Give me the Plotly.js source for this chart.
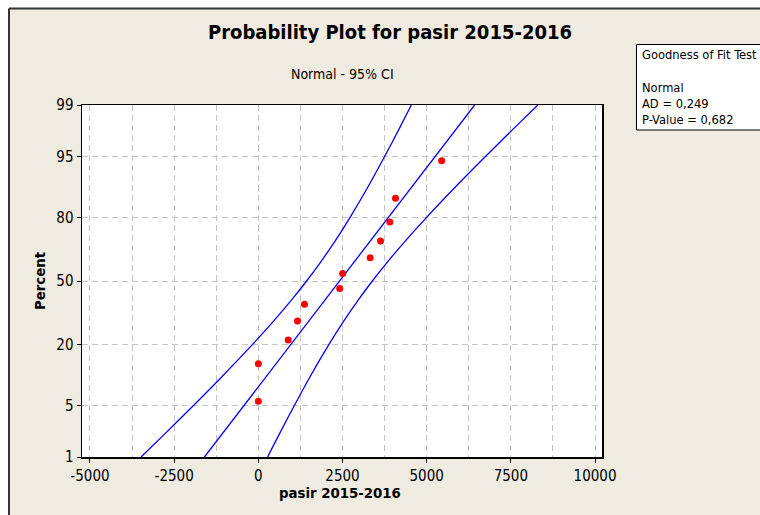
<!DOCTYPE html>
<html>
<head>
<meta charset="utf-8">
<script src="https://cdn.plot.ly/plotly-3.0.1.min.js"></script>
<style>html,body{margin:0;padding:0;background:#fff;}#chart{width:760px;height:515px;}</style>
</head>
<body>
<div id="chart"></div>
<script>
// ---- data ----
const pointX   = [0, 0, 888, 1163, 1370, 2417, 2506, 3322, 3630, 3905, 4074, 5444];
const pointPct = [5.6, 13.7, 21.8, 29.8, 37.9, 46.0, 54.0, 62.1, 70.2, 78.2, 86.3, 94.4];
const fitPct   = [1, 99];
const fitX     = [-1600, 6425];
const ciPct    = [1, 2, 5, 10, 20, 30, 40, 50, 60, 70, 80, 90, 95, 98, 99];
const ciLower  = [-3482, -2854, -1925, -1118, -178, 465, 982, 1434, 1855, 2274, 2726, 3304, 3750, 4232, 4544];
const ciUpper  = [276, 588, 1070, 1516, 2094, 2546, 2965, 3386, 3838, 4356, 4998, 5938, 6745, 7674, 8302];
const yTickPct = [1, 5, 20, 50, 80, 95, 99];
const xTickVals = [-5000, -2500, 0, 2500, 5000, 7500, 10000];
const xTickText = ['-5000', '-2500', '0', '2500', '5000', '7500', '10000'];
const gofLines = ['Goodness of Fit Test', '', 'Normal', 'AD = 0,249', 'P-Value = 0,682'];

// normal probability scale (inverse normal CDF, Acklam)
function normInv(p) {
  const a=[-3.969683028665376e+01,2.209460984245205e+02,-2.759285104469687e+02,1.383577518672690e+02,-3.066479806614716e+01,2.506628277459239e+00];
  const b=[-5.447609879822406e+01,1.615858368580409e+02,-1.556989798598866e+02,6.680131188771972e+01,-1.328068155288572e+01];
  const c=[-7.784894002430293e-03,-3.223964580411365e-01,-2.400758277161838e+00,-2.549732539343734e+00,4.374664141464968e+00,2.938163982698783e+00];
  const d=[7.784695709041462e-03,3.224671290700398e-01,2.445134137142996e+00,3.754408661907416e+00];
  const plow=0.02425, phigh=1-plow;
  let q, r;
  if (p < plow) { q=Math.sqrt(-2*Math.log(p)); return (((((c[0]*q+c[1])*q+c[2])*q+c[3])*q+c[4])*q+c[5])/((((d[0]*q+d[1])*q+d[2])*q+d[3])*q+1); }
  if (p <= phigh) { q=p-0.5; r=q*q; return (((((a[0]*r+a[1])*r+a[2])*r+a[3])*r+a[4])*r+a[5])*q/(((((b[0]*r+b[1])*r+b[2])*r+b[3])*r+b[4])*r+1); }
  q=Math.sqrt(-2*Math.log(1-p)); return -(((((c[0]*q+c[1])*q+c[2])*q+c[3])*q+c[4])*q+c[5])/((((d[0]*q+d[1])*q+d[2])*q+d[3])*q+1);
}
const toZ = arr => arr.map(v => normInv(v/100));

// layout geometry
const W=760, H=515, L=82, R=158, T=105, B=58;
const PW=W-L-R, PH=H-T-B;
const px = v => (v-L)/PW;          // pixel x -> paper
const py = v => (H-B-v)/PH;        // pixel y -> paper

const FONT = '"DejaVu Sans Condensed", "DejaVu Sans", sans-serif';
const blue = '#0000FF';

const traces = [
  {x: ciLower, y: toZ(ciPct), mode:'lines', line:{color:blue, width:1.3, shape:'spline'}, hoverinfo:'skip'},
  {x: ciUpper, y: toZ(ciPct), mode:'lines', line:{color:blue, width:1.3, shape:'spline'}, hoverinfo:'skip'},
  {x: fitX, y: toZ(fitPct), mode:'lines', line:{color:blue, width:1.3}, hoverinfo:'skip'},
  {x: pointX, y: toZ(pointPct), mode:'markers', marker:{color:'#FF0000', size:7}}
];

const gridCol = '#C4C4C4';
const annotations = [
  {text:'Normal - 95% CI', xref:'paper', yref:'paper', x:px(342), y:py(74), xanchor:'center', yanchor:'middle', showarrow:false, font:{family:FONT, size:14, color:'#000'}},
  {text:'<b>Percent</b>', xref:'paper', yref:'paper', x:px(39), y:py(281), xanchor:'center', yanchor:'middle', textangle:-90, showarrow:false, font:{family:FONT, size:14.8, color:'#000'}},
  {text:'<b>pasir 2015-2016</b>', xref:'paper', yref:'paper', x:px(340), y:py(492), xanchor:'center', yanchor:'middle', showarrow:false, font:{family:FONT, size:14.8, color:'#000'}}
];
const lineY = [55, 71, 87, 103, 119];
gofLines.forEach((t, i) => {
  if (t) annotations.push({text:t, xref:'paper', yref:'paper', x:px(640), y:py(lineY[i]), xanchor:'left', yanchor:'middle', showarrow:false, font:{family:FONT, size:12.8, color:'#000'}});
});

const shapes = [
  // white strips outside the frame
  {type:'rect', xref:'paper', yref:'paper', x0:px(0), x1:px(W), y0:py(0), y1:py(8.5), fillcolor:'#FFFFFF', line:{width:0}, layer:'below'},
  {type:'rect', xref:'paper', yref:'paper', x0:px(0), x1:px(9), y0:py(0), y1:py(H), fillcolor:'#FFFFFF', line:{width:0}, layer:'below'},
  // frame lines
  {type:'line', xref:'paper', yref:'paper', x0:px(9), x1:px(9), y0:py(8.5), y1:py(H), line:{color:'#333', width:2}},
  {type:'line', xref:'paper', yref:'paper', x0:px(9), x1:px(W), y0:py(8.5), y1:py(8.5), line:{color:'#333', width:2}},
  // goodness of fit box
  {type:'rect', xref:'paper', yref:'paper', x0:px(636.5), x1:px(W+10), y0:py(130), y1:py(44.5), fillcolor:'#FFFFFF', line:{color:'#000', width:1}}
];

const layout = {
  width:W, height:H,
  margin:{l:L, r:R, t:T, b:B, pad:0},
  paper_bgcolor:'#EFEBE1', plot_bgcolor:'#FFFFFF',
  showlegend:false,
  title:{text:'<b>Probability Plot for pasir 2015-2016</b>', xref:'container', yref:'container', x:390/W, y:1-32/H, xanchor:'center', yanchor:'middle', font:{family:FONT, size:20, color:'#000'}},
  xaxis:{
    range:[-5237, 10207], tickmode:'array', tickvals:xTickVals, ticktext:xTickText,
    showgrid:true, gridcolor:gridCol, gridwidth:1, griddash:'6px,4px',
    minor:{dtick:1250, tick0:0, showgrid:true, gridcolor:gridCol, gridwidth:1, griddash:'6px,4px', ticks:''},
    ticks:'outside', ticklen:4, tickcolor:'#000', tickwidth:1,
    showline:true, linecolor:'#000', linewidth:1.5, mirror:true, zeroline:false,
    tickfont:{family:FONT, size:15, color:'#000'}
  },
  yaxis:{
    range:[normInv(0.01), normInv(0.99)], tickmode:'array', tickvals:toZ(yTickPct), ticktext:yTickPct.map(String),
    showgrid:true, gridcolor:gridCol, gridwidth:1, griddash:'6px,4px',
    ticks:'outside', ticklen:4, tickcolor:'#000', tickwidth:1,
    showline:true, linecolor:'#000', linewidth:1.5, mirror:true, zeroline:false,
    tickfont:{family:FONT, size:15, color:'#000'}
  },
  annotations, shapes
};

Plotly.newPlot('chart', traces, layout, {displayModeBar:false, staticPlot:true});
</script>
</body>
</html>
